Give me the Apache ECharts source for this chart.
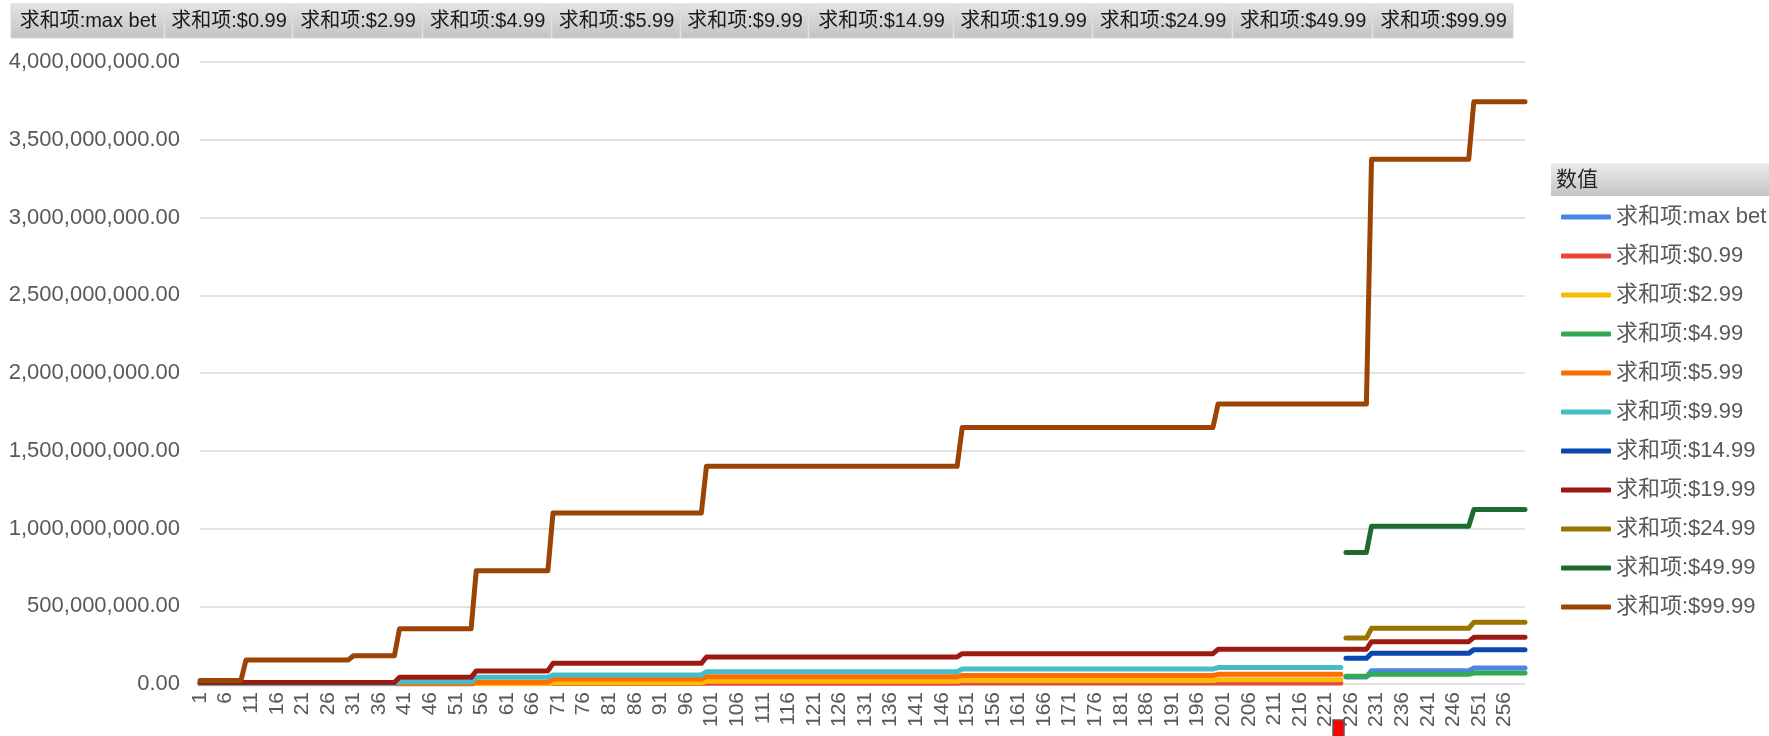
<!DOCTYPE html>
<html>
<head>
<meta charset="utf-8">
<title>数值</title>
<script src="https://cdn.jsdelivr.net/npm/echarts@6/dist/echarts.min.js"></script>
<style>
    html, body { margin: 0; padding: 0; background: #fff; }
    #chart { width: 1769px; height: 736px; }
</style>
</head>
<body>
<div id="chart"></div>
<script>
let categories = [];
for (let i = 1; i <= 260; i++) categories.push(String(i));

let seriesNames = ["求和项:max bet", "求和项:$0.99", "求和项:$2.99", "求和项:$4.99", "求和项:$5.99",
    "求和项:$9.99", "求和项:$14.99", "求和项:$19.99", "求和项:$24.99", "求和项:$49.99", "求和项:$99.99"];

// each step: [first category of the level, value]
let maxBet = [[225, 45e6], [230, 86e6], [250, 103e6]];
let p099 = [[1, 1e6], [55, 3e6], [100, 5e6], [150, 6e6], [200, 7e6]];
let p299 = [[55, 2e6], [70, 6e6], [100, 18e6], [150, 22e6], [200, 27e6]];
let p499 = [[225, 50e6], [230, 63e6], [250, 70e6]];
let p599 = [[40, 2e6], [55, 12e6], [70, 32e6], [100, 47e6], [150, 55e6], [200, 62e6]];
let p999 = [[1, 4e6], [40, 13e6], [55, 43e6], [70, 58e6], [100, 79e6], [150, 96e6], [200, 106e6]];
let p1499 = [[225, 165e6], [230, 197e6], [250, 221e6]];
let p1999 = [[1, 10e6], [40, 43e6], [55, 84e6], [70, 133e6], [100, 174e6], [150, 195e6], [200, 223e6], [230, 272e6], [250, 300e6]];
let p2499 = [[225, 296e6], [230, 358e6], [250, 397e6]];
let p4999 = [[225, 845e6], [230, 1015e6], [250, 1122e6]];
let p9999 = [[1, 22e6], [10, 155e6], [31, 182e6], [40, 355e6], [55, 728e6], [70, 1100e6], [100, 1400e6],
    [150, 1650e6], [200, 1800e6], [230, 3375e6], [250, 3745e6]];
// last category of each series
let lastCats = [260, 224, 224, 260, 224, 224, 260, 260, 260, 260, 260];

let yTicks = [0, 500e6, 1000e6, 1500e6, 2000e6, 2500e6, 3000e6, 3500e6, 4000e6];

let levels = [maxBet, p099, p299, p499, p599, p999, p1499, p1999, p2499, p4999, p9999];
let colors = ["#4a86e8", "#e8453c", "#f9bb05", "#34a853", "#ff6d00", "#46bdc6",
    "#0b47b0", "#9c1a12", "#9a7400", "#1e6b31", "#9c4306"];

function expand(steps, last) {
    let data = categories.map(() => null);
    for (let k = 0; k < steps.length; k++) {
        let to = k + 1 < steps.length ? steps[k + 1][0] - 1 : last;
        for (let c = steps[k][0]; c <= to; c++) data[c - 1] = steps[k][1];
    }
    return data;
}

function money(v) {
    return v.toLocaleString("en-US", {minimumFractionDigits: 2, maximumFractionDigits: 2});
}

let font = '"Liberation Sans", Arial, "Noto Sans CJK SC", sans-serif';

// pivot field buttons along the top
let btnEdges = [11, 165, 293, 423, 552, 681, 809, 954, 1093, 1233, 1373, 1514];
let graphics = [];
for (let i = 0; i < seriesNames.length; i++) {
    graphics.push({
        type: "rect",
        shape: {x: btnEdges[i], y: 4, width: btnEdges[i + 1] - btnEdges[i] - 1, height: 34},
        style: {
            fill: new echarts.graphic.LinearGradient(0, 0, 0, 1, [
                {offset: 0, color: "#e4e4e4"}, {offset: 1, color: "#c3c3c3"}]),
            stroke: "#d6d6d6", lineWidth: 1
        }
    });
    graphics.push({
        type: "text",
        x: (btnEdges[i] + btnEdges[i + 1]) / 2, y: 21,
        style: {text: seriesNames[i], font: "20px " + font, fill: "#1a1a1a", align: "center", verticalAlign: "middle"}
    });
}
// legend header
graphics.push({
    type: "rect",
    shape: {x: 1551, y: 163, width: 218, height: 33},
    style: {
        fill: new echarts.graphic.LinearGradient(0, 0, 0, 1, [
            {offset: 0, color: "#ececec"}, {offset: 1, color: "#c4c4c4"}])
    }
});
graphics.push({
    type: "text", x: 1556, y: 180,
    style: {text: "数值", font: "21px " + font, fill: "#262626", verticalAlign: "middle"}
});
// small red marker under the axis
graphics.push({
    type: "rect",
    shape: {x: 1333, y: 720, width: 11, height: 18},
    style: {fill: "#ff0000", stroke: "#5a5a5a", lineWidth: 1.5}
});

let series = [];
for (let i = 0; i < seriesNames.length; i++) {
    series.push({
        name: seriesNames[i],
        type: "line",
        data: expand(levels[i], lastCats[i]),
        color: colors[i],
        showSymbol: false,
        symbol: "none",
        connectNulls: false,
        lineStyle: {width: 5, cap: "round", join: "round"}
    });
}

let myChart = echarts.init(document.getElementById("chart"));
let option = {
    animation: false,
    backgroundColor: "#fff",
    grid: {left: 200, right: 244, top: 62, bottom: 52},
    xAxis: {
        type: "category",
        data: categories,
        boundaryGap: false,
        axisLine: {show: false},
        axisTick: {show: false},
        axisLabel: {rotate: 90, interval: 4, fontSize: 21, color: "#595959", fontFamily: font, margin: 8}
    },
    yAxis: {
        type: "value",
        min: yTicks[0],
        max: yTicks[yTicks.length - 1],
        interval: yTicks[1] - yTicks[0],
        axisLine: {show: false},
        axisTick: {show: false},
        splitLine: {lineStyle: {color: "#d9d9d9", width: 1.5}},
        axisLabel: {fontSize: 22, color: "#595959", fontFamily: font, margin: 20, formatter: money}
    },
    legend: {
        data: seriesNames,
        orient: "vertical",
        left: 1556,
        top: 201,
        icon: "roundRect",
        itemWidth: 50,
        itemHeight: 5,
        itemGap: 17,
        textStyle: {fontSize: 22, color: "#595959", fontFamily: font, lineHeight: 22}
    },
    graphic: graphics,
    series: series
};
myChart.setOption(option);
</script>
</body>
</html>
